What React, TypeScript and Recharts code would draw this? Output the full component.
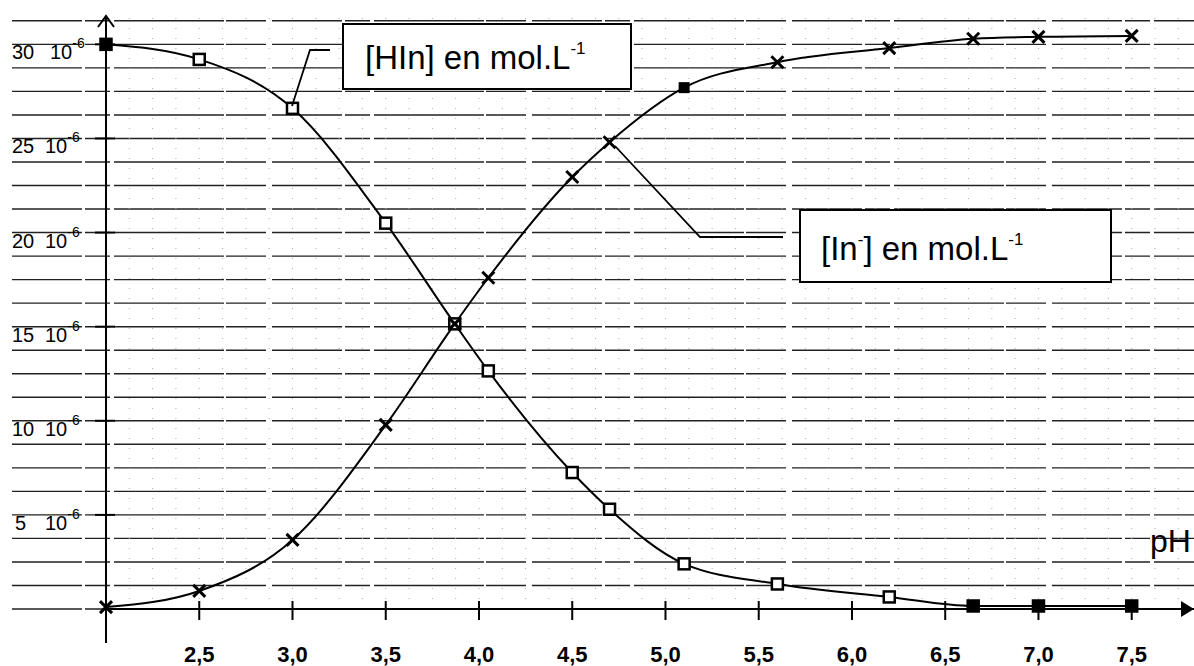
import { LineChart, Line, XAxis, YAxis, CartesianGrid } from 'recharts';

// pH values where both species were measured
const ph = [2.0, 2.5, 3.0, 3.5, 3.87, 4.05, 4.5, 4.7, 5.1, 5.6, 6.2, 6.65, 7.0, 7.5];
// concentrations, in 10^-6 mol/L
const hin = [30.0, 29.2, 26.6, 20.5, 15.15, 12.65, 7.25, 5.3, 2.4, 1.33, 0.64, 0.16, 0.16, 0.16];
const inMinus = [0.1, 0.96, 3.67, 9.78, 15.15, 17.6, 22.95, 24.8, 27.7, 29.05, 29.8, 30.3, 30.4, 30.45];

const xTicks = [2.5, 3.0, 3.5, 4.0, 4.5, 5.0, 5.5, 6.0, 6.5, 7.0, 7.5];
const yTicks = [5, 10, 15, 20, 25, 30];

const rows = ph.map((p, i) => ({ ph: p, hin: hin[i], inm: inMinus[i] }));

const FILLED_HIN = new Set([2.0, 6.65, 7.0, 7.5]);
const FILLED_IN = new Set([5.1]);

const FONT = '"Liberation Sans", Arial, sans-serif';

const hGrid = Array.from({ length: 26 }, (_, i) => i * 1.25);
const vGrid = Array.from({ length: 46 }, (_, i) => 2.125 + i * 0.125);

function squareDot(props: any) {
  const { cx, cy, index, payload } = props;
  if (cx == null || cy == null) return <g key={`s${index}`} />;
  const filled = FILLED_HIN.has(payload.ph);
  return (
    <rect
      key={`s${index}`}
      x={cx - 5.5}
      y={cy - 5.5}
      width={11}
      height={11}
      fill={filled ? '#000' : '#fff'}
      stroke="#000"
      strokeWidth={2.5}
    />
  );
}

function crossDot(props: any) {
  const { cx, cy, index, payload } = props;
  if (cx == null || cy == null) return <g key={`c${index}`} />;
  if (FILLED_IN.has(payload.ph)) {
    return <rect key={`c${index}`} x={cx - 5.5} y={cy - 5.5} width={11} height={11} fill="#000" />;
  }
  return (
    <g key={`c${index}`} stroke="#000" strokeWidth={3}>
      <line x1={cx - 6} y1={cy - 6} x2={cx + 6} y2={cy + 6} />
      <line x1={cx - 6} y1={cy + 6} x2={cx + 6} y2={cy - 6} />
    </g>
  );
}

function XTick({ x, y, payload }: any) {
  return (
    <g>
      <line x1={x} x2={x} y1={y - 8} y2={y + 11} stroke="#000" strokeWidth={2} />
      <text x={x} y={y + 53} textAnchor="middle" fontSize={22} fontWeight="bold" fontFamily={FONT} fill="#000">
        {payload.value.toFixed(1).replace('.', ',')}
      </text>
    </g>
  );
}

function YTick({ x, y, payload }: any) {
  const v = payload.value;
  return (
    <g>
      <line x1={x - 11} x2={x + 9} y1={y} y2={y} stroke="#000" strokeWidth={2} />
      <text x={v < 10 ? 15 : 12} y={y + 15} fontSize={20} fontFamily={FONT} fill="#000">
        {v}
      </text>
      <text x={v === 30 ? 50 : 45} y={y + 15} fontSize={20} fontFamily={FONT} fill="#000">
        10
        <tspan dy={-11} fontSize={14}>
          -6
        </tspan>
      </text>
    </g>
  );
}

function hLine(p: any) {
  return (
    <line
      key={`h${p.index}`}
      x1={12}
      y1={p.y1}
      x2={p.x2}
      y2={p.y2}
      stroke="#222"
      strokeWidth={1.4}
      strokeDasharray="70 3 25 4 110 2 40 6"
    />
  );
}

function vLine(p: any) {
  return (
    <line
      key={`v${p.index}`}
      x1={p.x1}
      y1={p.y1}
      x2={p.x2}
      y2={p.y2}
      stroke="#aaa"
      strokeWidth={1}
      strokeDasharray="1 9"
    />
  );
}

export default function App() {
  return (
    <div style={{ position: 'absolute', left: 0, top: 0, width: 1194, height: 666, background: '#fff' }}>
      <LineChart width={1194} height={666} data={rows} margin={{ top: 18, right: 0, bottom: 0, left: 0 }}>
        <CartesianGrid
          horizontalValues={hGrid}
          verticalValues={vGrid}
          horizontal={hLine}
          vertical={vLine}
        />
        <XAxis
          dataKey="ph"
          type="number"
          domain={[2, 7.834]}
          ticks={xTicks}
          height={57}
          tickSize={0}
          tickMargin={0}
          tickLine={false}
          axisLine={{ stroke: '#000', strokeWidth: 2.2 }}
          tick={<XTick />}
          interval={0}
        />
        <YAxis
          type="number"
          domain={[0, 31.4]}
          ticks={yTicks}
          width={106}
          tickSize={0}
          tickMargin={0}
          tickLine={false}
          axisLine={{ stroke: '#000', strokeWidth: 2 }}
          tick={<YTick />}
          interval={0}
        />
        <Line
          dataKey="hin"
          type="monotone"
          stroke="#000"
          strokeWidth={2}
          dot={squareDot}
          activeDot={false}
          isAnimationActive={false}
        />
        <Line
          dataKey="inm"
          type="monotone"
          stroke="#000"
          strokeWidth={2}
          dot={crossDot}
          activeDot={false}
          isAnimationActive={false}
        />
      </LineChart>
      <svg
        width={1194}
        height={666}
        style={{ position: 'absolute', left: 0, top: 0, pointerEvents: 'none' }}
        fontFamily={FONT}
      >
        {/* axis arrows */}
        <polyline points="98,27 106,16 114,27" fill="none" stroke="#000" strokeWidth={2} />
        <line x1={106} y1={609} x2={106} y2={643} stroke="#000" strokeWidth={2} />
        <polygon points="1181,601 1194,609 1181,617" fill="#000" />
        {/* HIn callout */}
        <polyline points="292,106 310,50 330,50" fill="none" stroke="#000" strokeWidth={1.8} />
        <rect x={343} y={24} width={288} height={65} fill="#fff" stroke="#000" strokeWidth={2} />
        <text x={365} y={69} fontSize={33} fill="#000">
          [HIn] en mol.L
          <tspan dy={-15} fontSize={17}>
            -1
          </tspan>
        </text>
        {/* In- callout */}
        <polyline points="615,146 700,237 783,237" fill="none" stroke="#000" strokeWidth={1.8} />
        <rect x={800} y={210} width={311} height={72} fill="#fff" stroke="#000" strokeWidth={2} />
        <text x={821} y={260} fontSize={33} fill="#000">
          [In
          <tspan dy={-15} fontSize={17}>
            -
          </tspan>
          <tspan dy={15}>] en mol.L</tspan>
          <tspan dy={-15} fontSize={17}>
            -1
          </tspan>
        </text>
        <text x={1150} y={552} fontSize={32} fill="#000">
          pH
        </text>
      </svg>
    </div>
  );
}
